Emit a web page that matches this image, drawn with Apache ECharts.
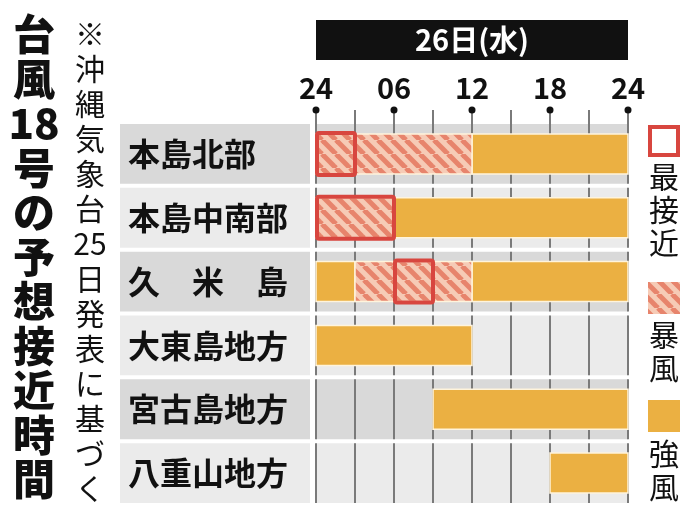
<!DOCTYPE html>
<html><head><meta charset="utf-8">
<script src="https://cdn.jsdelivr.net/npm/echarts@6/dist/echarts.min.js"></script>
<style>html,body{margin:0;padding:0;background:#fff}#c{width:700px;height:525px}</style>
</head><body><div id="c"></div>
<script>
const categories = ['本島北部','本島中南部','久　米　島','大東島地方','宮古島地方','八重山地方'];
const xTicks = ['24','06','12','18','24'];
// [row, startHour, endHour]
const stormBars = [[0,0,12],[1,0,6],[2,3,12]];
const strongBars = [[0,12,24],[1,6,24],[2,0,3],[2,12,24],[3,0,12],[4,9,24],[5,18,24]];
const closestBoxes = [[0,0,3],[1,0,6],[2,6,9]];

const FONT = '"Noto Sans CJK JP", sans-serif';
const ORANGE = '#ebb042', RED = '#d8463f';

function makeHatch(){
  const c = document.createElement('canvas'); c.width = 14; c.height = 14;
  const g = c.getContext('2d');
  g.fillStyle = '#f6cbb6'; g.fillRect(0,0,14,14);
  g.strokeStyle = '#e7846c'; g.lineWidth = 5;
  [-14,0,14].forEach(o=>{ g.beginPath(); g.moveTo(o,0); g.lineTo(o+14,14); g.stroke(); });
  return c;
}
const hatch = {image: makeHatch(), repeat: 'repeat'};

const chart = echarts.init(document.getElementById('c'));
function vtext(str, x, y, size, lh, weight){
  return {type:'text', x:x, y:y, style:{text:str, font:`${weight} ${size}px ${FONT}`, fill:'#111', lineHeight:lh, align:'center', verticalAlign:'top'}};
}
chart.setOption({
  animation:false,
  grid:{left:316, right:72, top:122, bottom:20},
  xAxis:{type:'value', min:0, max:24, interval:6, position:'top',
    axisLine:{show:false}, axisTick:{show:false}, splitLine:{show:false},
    axisLabel:{margin:20, formatter:(v)=>xTicks[v/6], fontFamily:FONT, fontWeight:'bold', fontSize:29, color:'#111'}},
  yAxis:{type:'category', data:categories, inverse:true,
    axisLine:{show:false}, axisTick:{show:false}, splitLine:{show:false},
    axisLabel:{align:'left', margin:188, fontFamily:FONT, fontWeight:'bold', fontSize:32, color:'#111'}, z:10},
  series:[
    {type:'custom', z:1, data:categories.map((c,i)=>[i]),
     renderItem:(p,api)=>{
       const i = api.value(0);
       const yc = api.coord([0,i])[1], h = api.size([0,1])[1];
       const top = yc-h/2+2, hh = h-4;
       const col = i%2===0 ? '#d9d9d9' : '#ebebeb';
       const ch = [
         {type:'rect', shape:{x:120,y:top,width:190,height:hh}, style:{fill:col}},
         {type:'rect', shape:{x:316,y:top,width:312,height:hh}, style:{fill:col}}
       ];
       for(let t=0;t<=24;t+=3){
         const x = api.coord([t,i])[0];
         ch.push({type:'line', shape:{x1:x,y1:(i===0?110:top),x2:x,y2:top+hh}, style:{stroke:'#7a7a7a', lineWidth:2}});
         if(i===0 && t%6===0) ch.push({type:'circle', shape:{cx:x,cy:110,r:3.5}, style:{fill:'#111'}});
       }
       return {type:'group', children:ch};
     }},
    {type:'custom', z:3, data:strongBars,
     renderItem:(p,api)=>{
       const a = api.coord([api.value(1),api.value(0)]), b = api.coord([api.value(2),api.value(0)]);
       return {type:'rect', shape:{x:a[0],y:a[1]-20,width:b[0]-a[0],height:40}, style:{fill:ORANGE, stroke:'#fff4dc', lineWidth:1.5}};
     }},
    {type:'custom', z:3, data:stormBars,
     renderItem:(p,api)=>{
       const a = api.coord([api.value(1),api.value(0)]), b = api.coord([api.value(2),api.value(0)]);
       return {type:'rect', shape:{x:a[0],y:a[1]-20,width:b[0]-a[0],height:40}, style:{fill:hatch, stroke:'#fff4dc', lineWidth:1.5}};
     }},
    {type:'custom', z:4, data:closestBoxes,
     renderItem:(p,api)=>{
       const a = api.coord([api.value(1),api.value(0)]), b = api.coord([api.value(2),api.value(0)]);
       return {type:'rect', shape:{x:a[0]+1,y:a[1]-21,width:b[0]-a[0]-1,height:42,r:2}, style:{fill:null, stroke:RED, lineWidth:4}};
     }}
  ],
  graphic:[
    {type:'rect', shape:{x:316,y:20,width:312,height:40}, style:{fill:'#111'}},
    {type:'text', x:472, y:40, style:{text:'26日(水)', font:`bold 29px ${FONT}`, fill:'#fff', align:'center', verticalAlign:'middle'}},
    vtext('台\n風\n18\n号\nの\n予\n想\n接\n近\n時\n間', 34, 12, 42, 44.5, '900'),
    vtext('※\n沖\n縄\n気\n象\n台\n25\n日\n発\n表\nに\n基\nづ\nく', 90, 16, 30, 35, 'normal'),
    {type:'rect', shape:{x:650,y:127,width:28,height:28}, style:{fill:'#fff', stroke:RED, lineWidth:4}},
    vtext('最\n接\n近', 664, 160, 30, 33, 'normal'),
    {type:'rect', shape:{x:648,y:282,width:32,height:32}, style:{fill:hatch}},
    vtext('暴\n風', 664, 318, 30, 33, 'normal'),
    {type:'rect', shape:{x:648,y:400,width:32,height:32}, style:{fill:ORANGE}},
    vtext('強\n風', 664, 437, 30, 33, 'normal')
  ]
});
</script></body></html>
